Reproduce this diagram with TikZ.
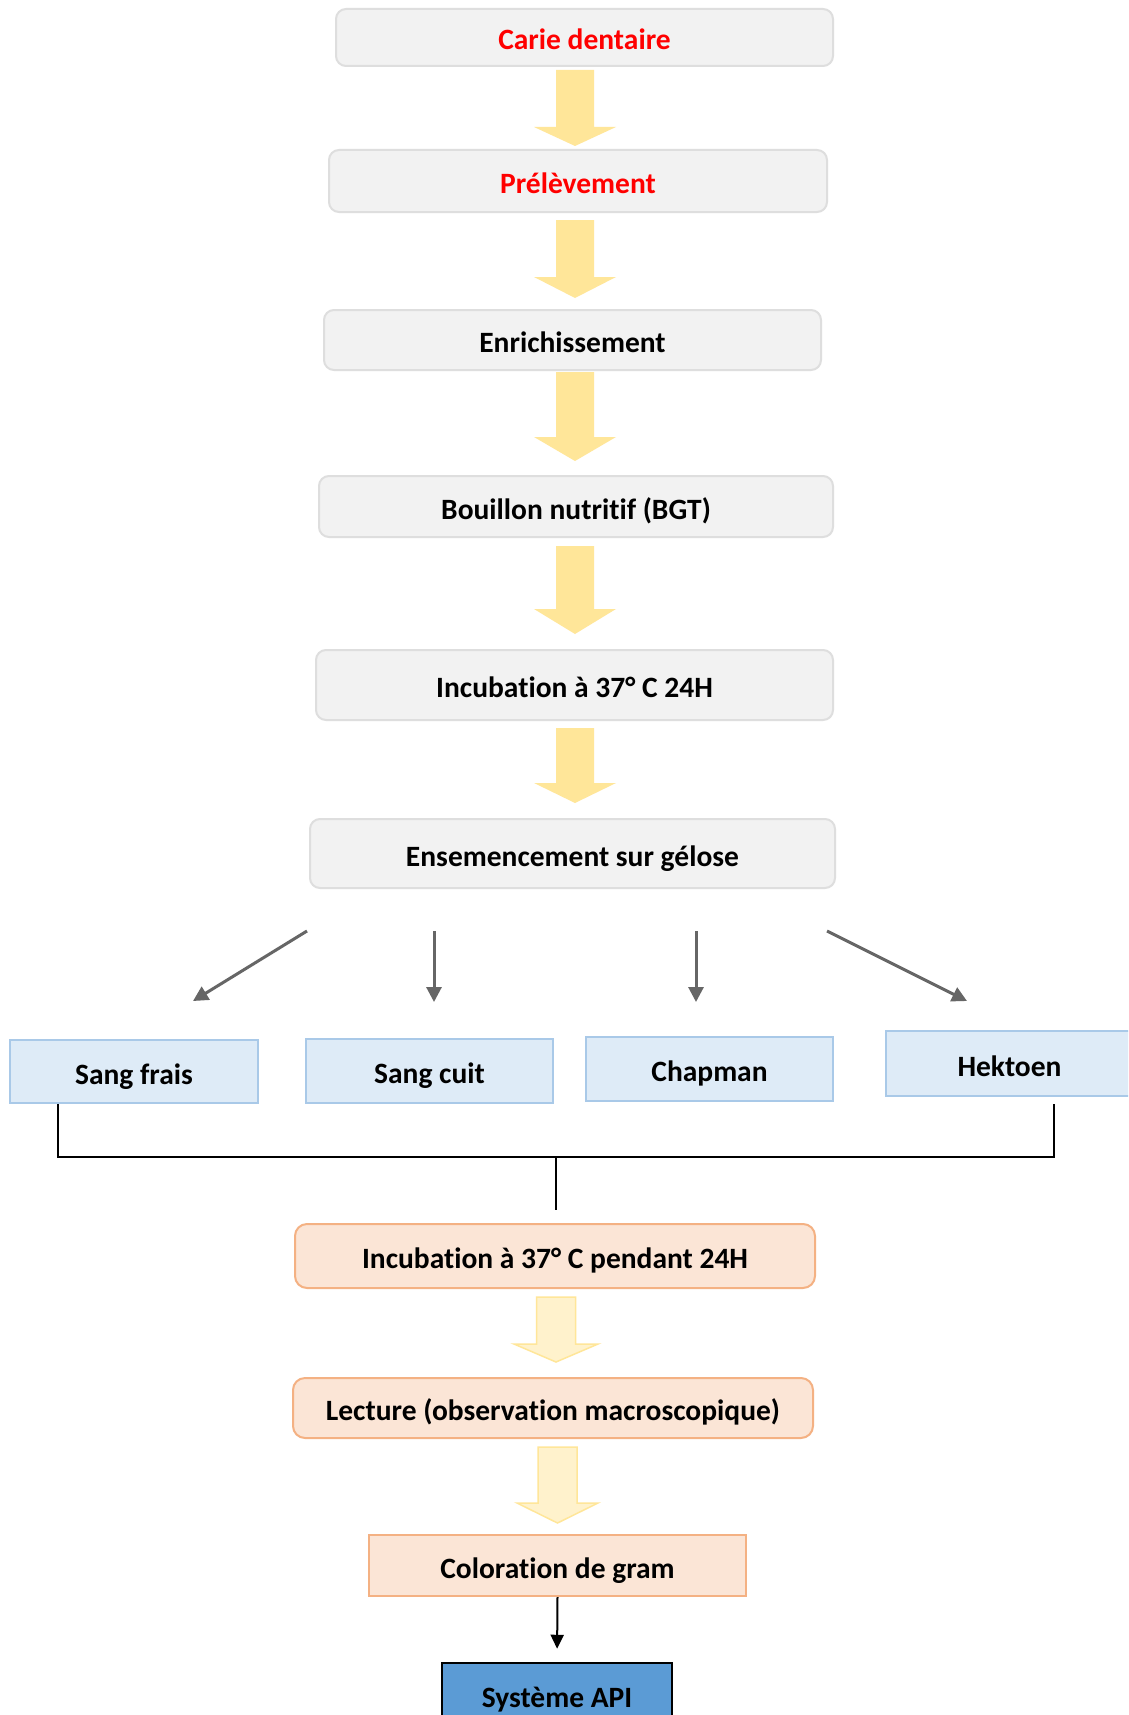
\documentclass[tikz,border=0pt]{standalone}
\usepackage{fontspec}
\setmainfont{Carlito}[Ligatures=NoCommon]
\usetikzlibrary{arrows.meta}
\definecolor{grayfill}{HTML}{F2F2F2}
\definecolor{grayline}{HTML}{DEDEDE}
\definecolor{yarrow}{HTML}{FFE699}
\definecolor{lyarrow}{HTML}{FFF2CC}
\definecolor{bluefill}{HTML}{DEEBF7}
\definecolor{blueline}{HTML}{A9C9E8}
\definecolor{peachfill}{HTML}{FBE5D6}
\definecolor{peachline}{HTML}{F4B183}
\definecolor{apiblue}{HTML}{5B9BD5}
\definecolor{arrowgray}{HTML}{666666}
\newcommand\blockarr[7][]{%
  \path[#1] ({#2-#6},#3) -- ({#2+#6},#3) -- ({#2+#6},#4) -- ({#2+#7},#4) -- (#2,#5)
    -- ({#2-#7},#4) -- ({#2-#6},#4) -- cycle;}
\begin{document}
\begin{tikzpicture}[x=1pt,y=-1pt,
  font=\fontsize{29.5}{34}\selectfont\bfseries,
  box/.style={draw, line width=2pt, inner sep=0pt, text height=27pt, text depth=2pt, align=center},
  graybox/.style={box, rounded corners=10pt, fill=grayfill, draw=grayline},
  bluebox/.style={box, fill=bluefill, draw=blueline},
  peachbox/.style={box, rounded corners=12pt, fill=peachfill, draw=peachline},
  fullarrow/.style={fill=yarrow},
  lightarrow/.style={fill=lyarrow, draw=yarrow, line width=1.5pt},
  grayarr/.style={draw=arrowgray, line width=3pt, -{Triangle[length=15pt,width=15pt]}},
  blackline/.style={draw=black, line width=2pt},
]
\clip (0,0) rectangle (1128,1715);
\fill[white] (0,0) rectangle (1128,1715);

% main column
\node[graybox, minimum width=497pt, minimum height=57pt, text=red] (carie) at (584.5,37.5) {Carie dentaire};
\node[graybox, minimum width=498pt, minimum height=62pt, text=red] (prel) at (578,181) {Prélèvement};
\node[graybox, minimum width=497pt, minimum height=60pt] (enrich) at (572.5,340) {Enrichissement};
\node[graybox, minimum width=514pt, minimum height=61pt] (bouillon) at (576,506.5) {Bouillon nutritif (BGT)};
\node[graybox, minimum width=517pt, minimum height=70pt] (incub) at (574.5,685) {Incubation à 37° C 24H};
\node[graybox, minimum width=525pt, minimum height=69pt] (ensem) at (572.5,853.5) {Ensemencement sur gélose};

% yellow block arrows
\blockarr[fullarrow]{575}{70}{127}{146}{19}{41}
\blockarr[fullarrow]{575}{220}{277}{298}{19}{41}
\blockarr[fullarrow]{575}{372}{437}{461}{19}{41}
\blockarr[fullarrow]{575}{546}{609}{634}{19}{41}
\blockarr[fullarrow]{575}{728}{783}{803}{19}{41}

% media boxes
\node[bluebox, minimum width=248pt, minimum height=63pt] (sangfrais) at (134,1071.5) {Sang frais};
\node[bluebox, minimum width=247pt, minimum height=64pt] (sangcuit) at (429.5,1071) {Sang cuit};
\node[bluebox, minimum width=247pt, minimum height=64pt] (chapman) at (709.5,1069) {Chapman};
\node[bluebox, minimum width=247pt, minimum height=65pt] (hektoen) at (1009.5,1063.5) {Hektoen};

% gray arrows
\coordinate (gA0) at (307,931); \coordinate (gA1) at (193,1001);
\coordinate (gB0) at (434,931); \coordinate (gB1) at (434,1002);
\coordinate (gC0) at (696,931); \coordinate (gC1) at (696,1002);
\coordinate (gD0) at (827,931); \coordinate (gD1) at (967,1001);
\draw[grayarr] (gA0) -- (gA1);
\draw[grayarr] (gB0) -- (gB1);
\draw[grayarr] (gC0) -- (gC1);
\draw[grayarr] (gD0) -- (gD1);

% lower column
\node[peachbox, minimum width=520pt, minimum height=64pt] (incub2) at (555,1256) {Incubation à 37° C pendant 24H};
\node[peachbox, minimum width=520pt, minimum height=60pt] (lecture) at (553,1408) {Lecture (observation macroscopique)};
\node[box, fill=peachfill, draw=peachline, minimum width=377pt, minimum height=61pt] (color) at (557.5,1565.5) {Coloration de gram};
\node[box, fill=apiblue, draw=black, line width=2.5pt, minimum width=230pt, minimum height=64pt] (api) at (557,1695) {Système API};

% bracket
\coordinate (bl) at (58,1157);
\coordinate (br) at (1054,1157);
\coordinate (bm) at (556,1157);
\draw[blackline] (sangfrais.south -| bl) -- (bl) -- (br) -- (br |- sangfrais.south);
\draw[blackline, shorten >=13pt] (bm) -- (bm |- incub2.north);

% light block arrows
\blockarr[lightarrow]{556}{1297}{1344}{1362}{19.5}{42}
\blockarr[lightarrow]{557.5}{1447}{1503}{1523}{19.5}{40.5}

% final arrow
\draw[blackline, shorten >=13pt, -{Triangle[length=14pt,width=13pt]}] (color.south) -- (api.north);
\end{tikzpicture}
\end{document}
